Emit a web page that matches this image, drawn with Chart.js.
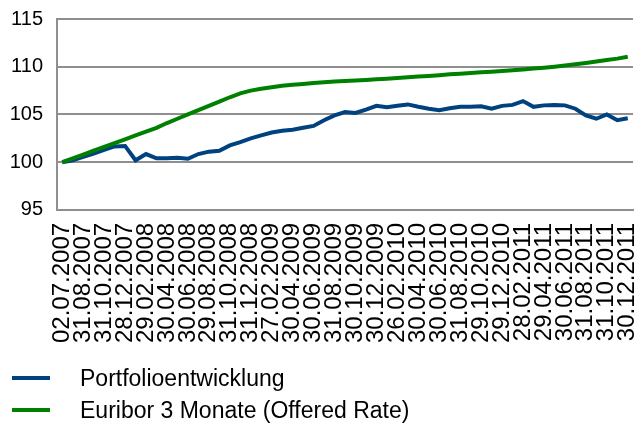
<!DOCTYPE html>
<html>
<head>
<meta charset="utf-8">
<script src="https://cdn.jsdelivr.net/npm/chart.js@4"></script>
<style>
  html, body { margin: 0; padding: 0; background: #fff; }
  #wrap { position: relative; width: 637px; height: 428px; }
  #legend { position: absolute; left: 0; top: 362px; font-family: "Liberation Sans", Arial, sans-serif; font-size: 23px; color: #000; }
  .item { position: relative; height: 32px; line-height: 32px; padding-left: 80px; white-space: nowrap; }
  .swatch { position: absolute; left: 12px; top: 14px; width: 38px; height: 4px; }
</style>
</head>
<body>
<div id="wrap">
  <canvas id="myChart" width="637" height="428"></canvas>
  <div id="legend"></div>
</div>
<script>
const dates = [
    '02.07.2007', '31.07.2007', '31.08.2007', '28.09.2007', '31.10.2007', '30.11.2007', '28.12.2007',
    '31.01.2008', '29.02.2008', '31.03.2008', '30.04.2008', '30.05.2008', '30.06.2008', '31.07.2008',
    '29.08.2008', '30.09.2008', '31.10.2008', '28.11.2008', '31.12.2008', '30.01.2009', '27.02.2009',
    '31.03.2009', '30.04.2009', '29.05.2009', '30.06.2009', '31.07.2009', '31.08.2009', '30.09.2009',
    '30.10.2009', '30.11.2009', '30.12.2009', '29.01.2010', '26.02.2010', '31.03.2010', '30.04.2010',
    '31.05.2010', '30.06.2010', '30.07.2010', '31.08.2010', '30.09.2010', '29.10.2010', '30.11.2010',
    '29.12.2010', '31.01.2011', '28.02.2011', '31.03.2011', '29.04.2011', '31.05.2011', '30.06.2011',
    '29.07.2011', '31.08.2011', '30.09.2011', '31.10.2011', '30.11.2011', '30.12.2011'
];

const portfolio = [
    100.0, 100.2, 100.55, 100.9, 101.3, 101.65, 101.7, 100.2, 100.85, 100.4,
    100.4, 100.45, 100.35, 100.85, 101.1, 101.2, 101.75, 102.1, 102.5, 102.8,
    103.1, 103.3, 103.4, 103.6, 103.8, 104.4, 104.9, 105.25, 105.15, 105.5,
    105.9, 105.75, 105.9, 106.05, 105.8, 105.6, 105.45, 105.65, 105.8, 105.8,
    105.85, 105.6, 105.9, 106.0, 106.4, 105.8, 105.95, 106.0, 105.95, 105.6,
    104.9, 104.55, 105.0, 104.4, 104.6
];

const euribor = [
    100.0, 100.4, 100.8, 101.2, 101.6, 102.0, 102.4, 102.8, 103.2, 103.6,
    104.1, 104.55, 105.0, 105.45, 105.9, 106.35, 106.8, 107.2, 107.5, 107.7,
    107.85, 108.0, 108.1, 108.2, 108.3, 108.37, 108.44, 108.5, 108.56, 108.62,
    108.68, 108.75, 108.82, 108.9, 108.97, 109.04, 109.11, 109.2, 109.27, 109.34,
    109.41, 109.48, 109.56, 109.64, 109.72, 109.81, 109.9, 110.0, 110.12, 110.26,
    110.4, 110.55, 110.7, 110.85, 111.05
];

const seriesNames = ['Portfolioentwicklung', 'Euribor 3 Monate (Offered Rate)'];
const seriesColors = ['#00427f', '#008000'];

const gridColor = '#8f8f8f';
const fontFamily = '"Liberation Sans", Arial, sans-serif';

const datasets = [portfolio, euribor].map((data, i) => ({
    label: seriesNames[i],
    data,
    borderColor: seriesColors[i],
    backgroundColor: seriesColors[i],
    borderWidth: 4,
    pointRadius: 0,
    tension: 0,
    fill: false
})).reverse();

// keep the plot area where the original had it, ignore label overhang
const noOverhang = scale => {
    scale.paddingLeft = 0;
    scale.paddingRight = 0;
    scale.paddingTop = 0;
    scale.paddingBottom = 0;
};

new Chart(document.querySelector('#myChart'), {
    type: 'line',
    data: { labels: dates, datasets },
    options: {
        responsive: false,
        animation: false,
        layout: { padding: { left: 10, right: 4, top: 19, bottom: 72 } },
        plugins: { legend: { display: false }, tooltip: { enabled: false } },
        scales: {
            x: {
                offset: true,
                afterFit: noOverhang,
                grid: { display: false, drawTicks: false },
                border: { display: true, color: gridColor, width: 2 },
                ticks: {
                    autoSkip: false,
                    minRotation: 90,
                    maxRotation: 90,
                    padding: 13,
                    color: '#000',
                    font: { family: fontFamily, size: 24 },
                    callback: (v, i) => (i % 2 === 0 ? dates[i] : '')
                }
            },
            y: {
                min: 95,
                max: 115,
                afterFit: scale => {
                    noOverhang(scale);
                    scale.width = 47;
                },
                grid: { color: gridColor, lineWidth: 2, drawTicks: false },
                border: { display: true, color: gridColor, width: 2 },
                ticks: {
                    stepSize: 5,
                    padding: 14,
                    color: '#000',
                    font: { family: fontFamily, size: 20 }
                }
            }
        }
    }
});

const legendEl = document.querySelector('#legend');
seriesNames.forEach((name, i) => {
    const item = document.createElement('div');
    item.className = 'item';
    const sw = document.createElement('span');
    sw.className = 'swatch';
    sw.style.background = seriesColors[i];
    item.appendChild(sw);
    item.appendChild(document.createTextNode(name));
    legendEl.appendChild(item);
});
</script>
</body>
</html>
